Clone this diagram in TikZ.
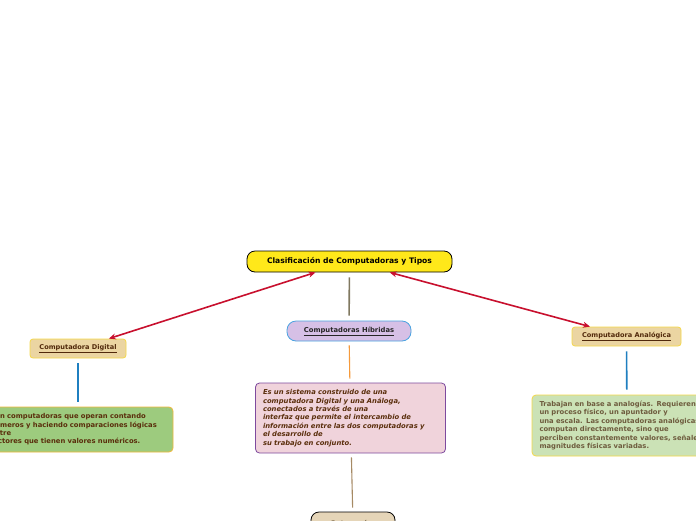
\documentclass[tikz,border=0pt]{standalone}
\usepackage{fontspec}
\setmainfont{DejaVu Sans}
\usetikzlibrary{arrows.meta}
\definecolor{topicyellow}{HTML}{FFE81A}
\definecolor{hybfill}{HTML}{D6C0E6}
\definecolor{hybline}{HTML}{4AA3E0}
\definecolor{tanfill}{HTML}{EBD5A2}
\definecolor{tanline}{HTML}{F5D84A}
\definecolor{greenfill}{HTML}{9DCB7E}
\definecolor{greenline}{HTML}{F2B83A}
\definecolor{palegreen}{HTML}{CBE2B6}
\definecolor{pinkfill}{HTML}{F0D3DB}
\definecolor{purpleline}{HTML}{7E4A9E}
\definecolor{bottomfill}{HTML}{E5D5B8}
\definecolor{browntext}{HTML}{5A2E0C}
\definecolor{olivetext}{HTML}{6E5C3E}
\definecolor{linkred}{HTML}{C8102E}
\definecolor{linkblue}{HTML}{1F7FC0}
\definecolor{linkgray}{HTML}{807860}
\definecolor{linkorange}{HTML}{F59A3C}
\definecolor{linkbrown}{HTML}{A68A64}
\begin{document}
\begin{tikzpicture}[x=1pt, y=-1pt,
        central/.style={draw=black, fill=topicyellow, rounded corners=8pt, line width=0.8pt,
            minimum width=205pt, minimum height=21pt, inner sep=0pt,
            font=\fontsize{7.6}{9}\selectfont\bfseries},
        hybrid/.style={draw=hybline, fill=hybfill, rounded corners=9pt, line width=0.8pt,
            minimum width=124pt, minimum height=20pt, inner sep=0pt, text=black!85,
            font=\fontsize{6.8}{8}\selectfont\bfseries},
        branch/.style={draw=tanline, fill=tanfill, rounded corners=3pt, line width=0.8pt,
            minimum height=19pt, inner sep=0pt, text=browntext!90!black,
            font=\fontsize{6.6}{8}\selectfont\bfseries},
        note/.style={rounded corners=4pt, line width=0.8pt, align=left,
            text width=175pt, inner xsep=7.5pt, inner ysep=2pt,
            font=\fontsize{6.8}{8.4}\selectfont\bfseries},
        sublink/.style={line width=1.6pt, shorten <=5pt, shorten >=5pt},
        mainlink/.style={draw=linkred, line width=1.6pt,
            {Stealth[length=7pt,width=6pt]}-{Stealth[length=7pt,width=6pt]}}
    ]
    \useasboundingbox (0,0) rectangle (696,520);
    \clip (0,0) rectangle (696,520);
    \fill[white] (0,0) rectangle (696,520);

    % central topic and the three branches
    \node[central] (main) at (349.5,261.5) {Clasificación de Computadoras y Tipos};
    \node[hybrid] (hybrid) at (349,331) {\underline{Computadoras Híbridas}};
    \node[branch, minimum width=96pt] (digital) at (78,348.5) {\underline{Computadora Digital}};
    \node[branch, minimum width=109pt] (analog) at (626.5,336.5) {\underline{Computadora Analógica}};

    % descriptions
    \node[note, draw=greenline, fill=greenfill, text=browntext, minimum height=45pt]
        (digdesc) at (78,429.5)
        {Son computadoras que operan contando\\números y haciendo comparaciones lógicas\\entre\\factores que tienen valores numéricos.};
    \node[note, draw=purpleline, fill=pinkfill, text=browntext, minimum height=70pt]
        (hybdesc) at (350.5,418)
        {\itshape Es un sistema construido de una\\\itshape computadora Digital y una Análoga,\\\itshape conectados a través de una\\interfaz que permite el intercambio de\\información entre las dos computadoras y\\el desarrollo de\\su trabajo en conjunto.};
    \node[note, draw=tanline, fill=palegreen, text=olivetext, minimum height=61pt]
        (anadesc) at (627,425.5)
        {Trabajan en base a analogías. Requieren\\un proceso físico, un apuntador y\\una escala. Las computadoras analógicas no\\computan directamente, sino que\\perciben constantemente valores, señales o\\magnitudes físicas variadas.};
    \node[draw=black, fill=bottomfill, rounded corners=8pt, line width=0.8pt,
        minimum width=84pt, minimum height=24pt, inner sep=0pt,
        font=\fontsize{7.6}{9}\selectfont\bfseries, text=olivetext]
        (types) at (353,524) {Categorías};

    % connectors
    \draw[mainlink] (main) -- (digital);
    \draw[mainlink] (main) -- (analog);
    \draw[sublink, draw=linkgray] (main) -- (hybrid);
    \draw[sublink, draw=linkorange, line width=1.1pt, shorten <=4pt, shorten >=4pt] (hybrid) -- (hybdesc);
    \draw[sublink, draw=linkblue] (digital) -- (digdesc);
    \draw[sublink, draw=linkblue] (analog) -- (anadesc);
    \draw[sublink, draw=linkbrown, line width=1.1pt, shorten <=4pt, shorten >=4pt] (hybdesc) -- (types);
\end{tikzpicture}
\end{document}
